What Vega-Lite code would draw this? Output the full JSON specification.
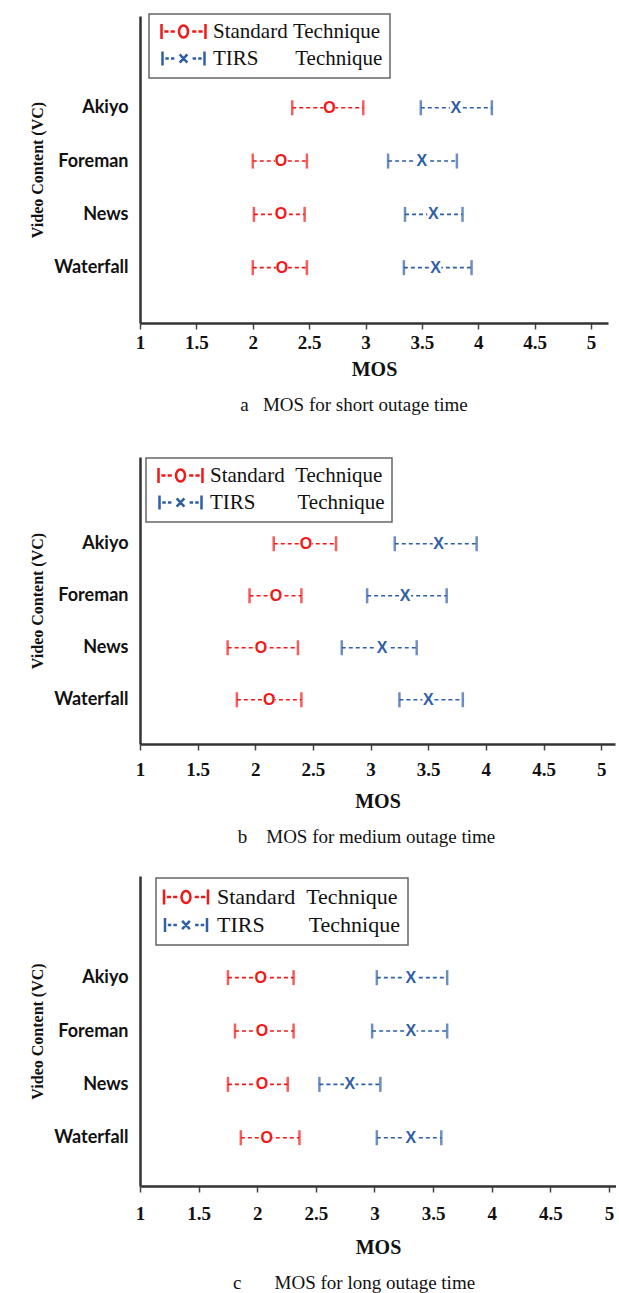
{
  "$schema": "https://vega.github.io/schema/vega-lite/v6.json",
  "padding": {"left": 29, "top": 13, "right": 0, "bottom": 0},
  "background": "white",
  "config": {
    "view": {"stroke": null},
    "axis": {"grid": false},
    "legend": {"strokeWidth": 1.5}
  },
  "datasets": {
    "short": [
      {"video": "Akiyo", "technique": "Standard Technique", "low": 2.35, "mean": 2.68, "high": 2.98},
      {"video": "Akiyo", "technique": "TIRS Technique", "low": 3.49, "mean": 3.80, "high": 4.12},
      {"video": "Foreman", "technique": "Standard Technique", "low": 2.00, "mean": 2.25, "high": 2.48},
      {"video": "Foreman", "technique": "TIRS Technique", "low": 3.20, "mean": 3.50, "high": 3.81},
      {"video": "News", "technique": "Standard Technique", "low": 2.01, "mean": 2.25, "high": 2.46},
      {"video": "News", "technique": "TIRS Technique", "low": 3.35, "mean": 3.60, "high": 3.86},
      {"video": "Waterfall", "technique": "Standard Technique", "low": 2.00, "mean": 2.26, "high": 2.48},
      {"video": "Waterfall", "technique": "TIRS Technique", "low": 3.34, "mean": 3.62, "high": 3.94}
    ],
    "medium": [
      {"video": "Akiyo", "technique": "Standard Technique", "low": 2.16, "mean": 2.44, "high": 2.70},
      {"video": "Akiyo", "technique": "TIRS Technique", "low": 3.21, "mean": 3.59, "high": 3.92},
      {"video": "Foreman", "technique": "Standard Technique", "low": 1.95, "mean": 2.18, "high": 2.40},
      {"video": "Foreman", "technique": "TIRS Technique", "low": 2.97, "mean": 3.30, "high": 3.66},
      {"video": "News", "technique": "Standard Technique", "low": 1.76, "mean": 2.05, "high": 2.37},
      {"video": "News", "technique": "TIRS Technique", "low": 2.75, "mean": 3.10, "high": 3.40},
      {"video": "Waterfall", "technique": "Standard Technique", "low": 1.84, "mean": 2.12, "high": 2.40},
      {"video": "Waterfall", "technique": "TIRS Technique", "low": 3.25, "mean": 3.50, "high": 3.80}
    ],
    "long": [
      {"video": "Akiyo", "technique": "Standard Technique", "low": 1.75, "mean": 2.03, "high": 2.31},
      {"video": "Akiyo", "technique": "TIRS Technique", "low": 3.02, "mean": 3.31, "high": 3.62},
      {"video": "Foreman", "technique": "Standard Technique", "low": 1.81, "mean": 2.04, "high": 2.31},
      {"video": "Foreman", "technique": "TIRS Technique", "low": 2.98, "mean": 3.31, "high": 3.62},
      {"video": "News", "technique": "Standard Technique", "low": 1.75, "mean": 2.04, "high": 2.26},
      {"video": "News", "technique": "TIRS Technique", "low": 2.53, "mean": 2.79, "high": 3.05},
      {"video": "Waterfall", "technique": "Standard Technique", "low": 1.86, "mean": 2.08, "high": 2.36},
      {"video": "Waterfall", "technique": "TIRS Technique", "low": 3.02, "mean": 3.31, "high": 3.57}
    ]
  },
  "spacing": 42,
  "resolve": {
    "scale": {"x": "independent", "y": "independent", "color": "independent", "shape": "independent"},
    "legend": {"color": "independent", "shape": "independent"}
  },
  "vconcat": [
    {
      "width": 468, "height": 307,
      "data": {"name": "short"},
      "title": {"text": "a\u00a0\u00a0\u00a0MOS for short outage time", "orient": "bottom", "font": "Liberation Serif", "fontSize": 19, "fontWeight": "normal", "color": "#111", "offset": 17, "dx": -20},
      "encoding": {
        "y": {"field": "video", "type": "nominal",
          "scale": {"type": "point", "domain": ["", "Akiyo", "Foreman", "News", "Waterfall"], "padding": 0.88, "align": 0.41},
          "axis": {"title": "Video Content (VC)", "titleFont": "Liberation Serif", "titleFontSize": 16, "titleFontWeight": "bold", "titleColor": "#111", "titlePadding": 8,
            "labelFont": "Lato", "labelFontSize": 18, "labelFontWeight": "bold", "labelColor": "#111", "labelPadding": 12, "ticks": false, "domainColor": "#333", "domainWidth": 2.5}}
      },
      "layer": [
        {"mark": {"type": "rule", "strokeDash": [4, 3], "strokeWidth": 1.6},
          "encoding": {"x": {"field": "low", "type": "quantitative", "scale": {"domain": [1, 5.15], "nice": false, "zero": false},
            "axis": {"title": "MOS", "values": [1, 1.5, 2, 2.5, 3, 3.5, 4, 4.5, 5], "labelExpr": "'' + datum.value", "labelFont": "Liberation Serif", "labelFontSize": 19, "labelFontWeight": "bold", "labelColor": "#111", "labelPadding": 4.5, "labelFlush": false,
              "tickColor": "#444", "tickSize": 6, "tickWidth": 1.5, "domainColor": "#333", "domainWidth": 2.5,
              "titleFont": "Liberation Serif", "titleFontSize": 20, "titleFontWeight": "bold", "titleColor": "#111", "titlePadding": 6.5}},
            "x2": {"field": "high"},
            "stroke": {"field": "technique", "type": "nominal", "legend": null, "scale": {"domain": ["Standard Technique", "TIRS Technique"], "range": ["#f21818", "#2f5fa5"]}}}},
        {"mark": {"type": "tick", "thickness": 2.5, "size": 15},
          "encoding": {"x": {"field": "low", "type": "quantitative"},
            "fill": {"field": "technique", "type": "nominal", "legend": null, "scale": {"domain": ["Standard Technique", "TIRS Technique"], "range": ["#f21818", "#2f5fa5"]}}}},
        {"mark": {"type": "tick", "thickness": 2.5, "size": 15},
          "encoding": {"x": {"field": "high", "type": "quantitative"},
            "fill": {"field": "technique", "type": "nominal", "legend": null, "scale": {"domain": ["Standard Technique", "TIRS Technique"], "range": ["#f21818", "#2f5fa5"]}}}},
        {"mark": {"type": "point", "filled": true, "size": 140, "opacity": 1, "strokeWidth": 0, "color": "white"},
          "encoding": {"x": {"field": "mean", "type": "quantitative"}}},
        {"mark": {"type": "text", "font": "Liberation Sans", "fontSize": 16, "fontWeight": "bold", "baseline": "middle", "align": "center"},
          "encoding": {"x": {"field": "mean", "type": "quantitative"},
            "fill": {"field": "technique", "type": "nominal", "legend": null, "scale": {"domain": ["Standard Technique", "TIRS Technique"], "range": ["#f21818", "#2f5fa5"]}},
            "text": {"condition": {"test": "datum.technique === 'TIRS Technique'", "value": "X"}, "value": "O"}}},
        {"mark": {"type": "point", "filled": false, "opacity": 0},
          "encoding": {"x": {"field": "mean", "type": "quantitative"},
            "color": {"field": "technique", "type": "nominal", "scale": {"domain": ["Standard Technique", "TIRS Technique"], "range": ["#f21818", "#2f5fa5"]},
              "legend": {"title": null, "orient": "none", "legendX": 9, "legendY": -2, "labelExpr": "datum.label == 'Standard Technique' ? 'Standard\u00a0Technique\u00a0\u00a0\u00a0' : 'TIRS\u00a0\u00a0\u00a0\u00a0\u00a0\u00a0\u00a0Technique\u00a0\u00a0\u00a0'", "labelFont": "Liberation Serif", "labelFontSize": 21, "labelColor": "#111", "labelOffset": 19, "symbolOffset": 17, "labelLimit": 400, "symbolSize": 196, "symbolStrokeWidth": 2.5, "symbolOpacity": 1, "strokeColor": "#666", "padding": 7, "rowPadding": 2}},
            "shape": {"field": "technique", "type": "nominal", "scale": {"domain": ["Standard Technique", "TIRS Technique"], "range": ["M-3.14,-1.07V1.07M3.14,-1.07V1.07M-2.74,0H-2.14M-1.84,0H-1.24M1.24,0H1.84M2.14,0H2.74M0.64,0A0.64,0.86 0 1,1 -0.64,0A0.64,0.86 0 1,1 0.64,0", "M-3,-1V1M3,-1V1M-2.6,0H-2.1M-1.8,0H-1.3M1.3,0H1.8M2.1,0H2.6M-0.55,-0.6L0.55,0.6M-0.55,0.6L0.55,-0.6"]},
              "legend": {"title": null, "orient": "none", "legendX": 9, "legendY": -2, "labelExpr": "datum.label == 'Standard Technique' ? 'Standard\u00a0Technique\u00a0\u00a0\u00a0' : 'TIRS\u00a0\u00a0\u00a0\u00a0\u00a0\u00a0\u00a0Technique\u00a0\u00a0\u00a0'", "labelFont": "Liberation Serif", "labelFontSize": 21, "labelColor": "#111", "labelOffset": 19, "symbolOffset": 17, "labelLimit": 400, "symbolSize": 196, "symbolStrokeWidth": 2.5, "symbolOpacity": 1, "strokeColor": "#666", "padding": 7, "rowPadding": 2}}}}
      ]
    },
    {
      "spacing": 29,
      "resolve": {
        "scale": {"x": "independent", "y": "independent", "color": "independent", "shape": "independent"},
        "legend": {"color": "independent", "shape": "independent"}
      },
      "vconcat": [
        {
          "width": 475, "height": 287,
          "data": {"name": "medium"},
          "title": {"text": "b\u00a0\u00a0\u00a0\u00a0MOS for medium outage time", "orient": "bottom", "font": "Liberation Serif", "fontSize": 19, "fontWeight": "normal", "color": "#111", "offset": 17, "dx": -11},
          "encoding": {
            "y": {"field": "video", "type": "nominal",
              "scale": {"type": "point", "domain": ["", "Akiyo", "Foreman", "News", "Waterfall"], "padding": 0.76, "align": 0.44},
              "axis": {"title": "Video Content (VC)", "titleFont": "Liberation Serif", "titleFontSize": 16, "titleFontWeight": "bold", "titleColor": "#111", "titlePadding": 8,
                "labelFont": "Lato", "labelFontSize": 18, "labelFontWeight": "bold", "labelColor": "#111", "labelPadding": 12, "ticks": false, "domainColor": "#333", "domainWidth": 2.5}}
          },
          "layer": [
            {"mark": {"type": "rule", "strokeDash": [4, 3], "strokeWidth": 1.6},
              "encoding": {"x": {"field": "low", "type": "quantitative", "scale": {"domain": [1, 5.12], "nice": false, "zero": false},
                "axis": {"title": "MOS", "values": [1, 1.5, 2, 2.5, 3, 3.5, 4, 4.5, 5], "labelExpr": "'' + datum.value", "labelFont": "Liberation Serif", "labelFontSize": 19, "labelFontWeight": "bold", "labelColor": "#111", "labelPadding": 10.5, "labelFlush": false,
                  "tickColor": "#444", "tickSize": 6, "tickWidth": 1.5, "domainColor": "#333", "domainWidth": 2.5,
                  "titleFont": "Liberation Serif", "titleFontSize": 20, "titleFontWeight": "bold", "titleColor": "#111", "titlePadding": 11.5}},
                "x2": {"field": "high"},
                "stroke": {"field": "technique", "type": "nominal", "legend": null, "scale": {"domain": ["Standard Technique", "TIRS Technique"], "range": ["#f21818", "#2f5fa5"]}}}},
            {"mark": {"type": "tick", "thickness": 2.5, "size": 15},
              "encoding": {"x": {"field": "low", "type": "quantitative"},
                "fill": {"field": "technique", "type": "nominal", "legend": null, "scale": {"domain": ["Standard Technique", "TIRS Technique"], "range": ["#f21818", "#2f5fa5"]}}}},
            {"mark": {"type": "tick", "thickness": 2.5, "size": 15},
              "encoding": {"x": {"field": "high", "type": "quantitative"},
                "fill": {"field": "technique", "type": "nominal", "legend": null, "scale": {"domain": ["Standard Technique", "TIRS Technique"], "range": ["#f21818", "#2f5fa5"]}}}},
            {"mark": {"type": "point", "filled": true, "size": 140, "opacity": 1, "strokeWidth": 0, "color": "white"},
              "encoding": {"x": {"field": "mean", "type": "quantitative"}}},
            {"mark": {"type": "text", "font": "Liberation Sans", "fontSize": 16, "fontWeight": "bold", "baseline": "middle", "align": "center"},
              "encoding": {"x": {"field": "mean", "type": "quantitative"},
                "fill": {"field": "technique", "type": "nominal", "legend": null, "scale": {"domain": ["Standard Technique", "TIRS Technique"], "range": ["#f21818", "#2f5fa5"]}},
                "text": {"condition": {"test": "datum.technique === 'TIRS Technique'", "value": "X"}, "value": "O"}}},
            {"mark": {"type": "point", "filled": false, "opacity": 0},
              "encoding": {"x": {"field": "mean", "type": "quantitative"},
                "color": {"field": "technique", "type": "nominal", "scale": {"domain": ["Standard Technique", "TIRS Technique"], "range": ["#f21818", "#2f5fa5"]},
                  "legend": {"title": null, "orient": "none", "legendX": 6, "legendY": 1, "labelExpr": "datum.label == 'Standard Technique' ? 'Standard\u00a0\u00a0Technique\u00a0\u00a0\u00a0' : 'TIRS\u00a0\u00a0\u00a0\u00a0\u00a0\u00a0\u00a0\u00a0Technique\u00a0\u00a0\u00a0'", "labelFont": "Liberation Serif", "labelFontSize": 21, "labelColor": "#111", "labelOffset": 19, "symbolOffset": 17, "labelLimit": 400, "symbolSize": 196, "symbolStrokeWidth": 2.5, "symbolOpacity": 1, "strokeColor": "#666", "padding": 7, "rowPadding": 2}},
                "shape": {"field": "technique", "type": "nominal", "scale": {"domain": ["Standard Technique", "TIRS Technique"], "range": ["M-3.14,-1.07V1.07M3.14,-1.07V1.07M-2.74,0H-2.14M-1.84,0H-1.24M1.24,0H1.84M2.14,0H2.74M0.64,0A0.64,0.86 0 1,1 -0.64,0A0.64,0.86 0 1,1 0.64,0", "M-3,-1V1M3,-1V1M-2.6,0H-2.1M-1.8,0H-1.3M1.3,0H1.8M2.1,0H2.6M-0.55,-0.6L0.55,0.6M-0.55,0.6L0.55,-0.6"]},
                  "legend": {"title": null, "orient": "none", "legendX": 6, "legendY": 1, "labelExpr": "datum.label == 'Standard Technique' ? 'Standard\u00a0\u00a0Technique\u00a0\u00a0\u00a0' : 'TIRS\u00a0\u00a0\u00a0\u00a0\u00a0\u00a0\u00a0\u00a0Technique\u00a0\u00a0\u00a0'", "labelFont": "Liberation Serif", "labelFontSize": 21, "labelColor": "#111", "labelOffset": 19, "symbolOffset": 17, "labelLimit": 400, "symbolSize": 196, "symbolStrokeWidth": 2.5, "symbolOpacity": 1, "strokeColor": "#666", "padding": 7, "rowPadding": 2}}}}
          ]
        },
        {
          "width": 476, "height": 310,
          "data": {"name": "long"},
          "title": {"text": "c\u00a0\u00a0\u00a0\u00a0\u00a0\u00a0\u00a0MOS for long outage time", "orient": "bottom", "font": "Liberation Serif", "fontSize": 19, "fontWeight": "normal", "color": "#111", "offset": 17, "dx": -24},
          "encoding": {
            "y": {"field": "video", "type": "nominal",
              "scale": {"type": "point", "domain": ["", "Akiyo", "Foreman", "News", "Waterfall"], "padding": 0.905, "align": 0.5},
              "axis": {"title": "Video Content (VC)", "titleFont": "Liberation Serif", "titleFontSize": 16, "titleFontWeight": "bold", "titleColor": "#111", "titlePadding": 8,
                "labelFont": "Lato", "labelFontSize": 18, "labelFontWeight": "bold", "labelColor": "#111", "labelPadding": 12, "ticks": false, "domainColor": "#333", "domainWidth": 2.5}}
          },
          "layer": [
            {"mark": {"type": "rule", "strokeDash": [4, 3], "strokeWidth": 1.6},
              "encoding": {"x": {"field": "low", "type": "quantitative", "scale": {"domain": [1, 5.06], "nice": false, "zero": false},
                "axis": {"title": "MOS", "values": [1, 1.5, 2, 2.5, 3, 3.5, 4, 4.5, 5], "labelExpr": "'' + datum.value", "labelFont": "Liberation Serif", "labelFontSize": 19, "labelFontWeight": "bold", "labelColor": "#111", "labelPadding": 12.5, "labelFlush": false,
                  "tickColor": "#444", "tickSize": 6, "tickWidth": 1.5, "domainColor": "#333", "domainWidth": 2.5,
                  "titleFont": "Liberation Serif", "titleFontSize": 20, "titleFontWeight": "bold", "titleColor": "#111", "titlePadding": 13.5}},
                "x2": {"field": "high"},
                "stroke": {"field": "technique", "type": "nominal", "legend": null, "scale": {"domain": ["Standard Technique", "TIRS Technique"], "range": ["#f21818", "#2f5fa5"]}}}},
            {"mark": {"type": "tick", "thickness": 2.5, "size": 15},
              "encoding": {"x": {"field": "low", "type": "quantitative"},
                "fill": {"field": "technique", "type": "nominal", "legend": null, "scale": {"domain": ["Standard Technique", "TIRS Technique"], "range": ["#f21818", "#2f5fa5"]}}}},
            {"mark": {"type": "tick", "thickness": 2.5, "size": 15},
              "encoding": {"x": {"field": "high", "type": "quantitative"},
                "fill": {"field": "technique", "type": "nominal", "legend": null, "scale": {"domain": ["Standard Technique", "TIRS Technique"], "range": ["#f21818", "#2f5fa5"]}}}},
            {"mark": {"type": "point", "filled": true, "size": 140, "opacity": 1, "strokeWidth": 0, "color": "white"},
              "encoding": {"x": {"field": "mean", "type": "quantitative"}}},
            {"mark": {"type": "text", "font": "Liberation Sans", "fontSize": 16, "fontWeight": "bold", "baseline": "middle", "align": "center"},
              "encoding": {"x": {"field": "mean", "type": "quantitative"},
                "fill": {"field": "technique", "type": "nominal", "legend": null, "scale": {"domain": ["Standard Technique", "TIRS Technique"], "range": ["#f21818", "#2f5fa5"]}},
                "text": {"condition": {"test": "datum.technique === 'TIRS Technique'", "value": "X"}, "value": "O"}}},
            {"mark": {"type": "point", "filled": false, "opacity": 0},
              "encoding": {"x": {"field": "mean", "type": "quantitative"},
                "color": {"field": "technique", "type": "nominal", "scale": {"domain": ["Standard Technique", "TIRS Technique"], "range": ["#f21818", "#2f5fa5"]},
                  "legend": {"title": null, "orient": "none", "legendX": 16, "legendY": 2, "labelExpr": "datum.label == 'Standard Technique' ? 'Standard\u00a0\u00a0Technique\u00a0\u00a0\u00a0' : 'TIRS\u00a0\u00a0\u00a0\u00a0\u00a0\u00a0\u00a0\u00a0Technique\u00a0\u00a0\u00a0'", "labelFont": "Liberation Serif", "labelFontSize": 22, "labelColor": "#111", "labelOffset": 20, "symbolOffset": 11, "labelLimit": 400, "symbolSize": 196, "symbolStrokeWidth": 2.5, "symbolOpacity": 1, "strokeColor": "#666", "padding": 8, "rowPadding": 3}},
                "shape": {"field": "technique", "type": "nominal", "scale": {"domain": ["Standard Technique", "TIRS Technique"], "range": ["M-3.14,-1.07V1.07M3.14,-1.07V1.07M-2.74,0H-2.14M-1.84,0H-1.24M1.24,0H1.84M2.14,0H2.74M0.64,0A0.64,0.86 0 1,1 -0.64,0A0.64,0.86 0 1,1 0.64,0", "M-3,-1V1M3,-1V1M-2.6,0H-2.1M-1.8,0H-1.3M1.3,0H1.8M2.1,0H2.6M-0.55,-0.6L0.55,0.6M-0.55,0.6L0.55,-0.6"]},
                  "legend": {"title": null, "orient": "none", "legendX": 16, "legendY": 2, "labelExpr": "datum.label == 'Standard Technique' ? 'Standard\u00a0\u00a0Technique\u00a0\u00a0\u00a0' : 'TIRS\u00a0\u00a0\u00a0\u00a0\u00a0\u00a0\u00a0\u00a0Technique\u00a0\u00a0\u00a0'", "labelFont": "Liberation Serif", "labelFontSize": 22, "labelColor": "#111", "labelOffset": 20, "symbolOffset": 11, "labelLimit": 400, "symbolSize": 196, "symbolStrokeWidth": 2.5, "symbolOpacity": 1, "strokeColor": "#666", "padding": 8, "rowPadding": 3}}}}
          ]
        }
      ]
    }
  ]
}
